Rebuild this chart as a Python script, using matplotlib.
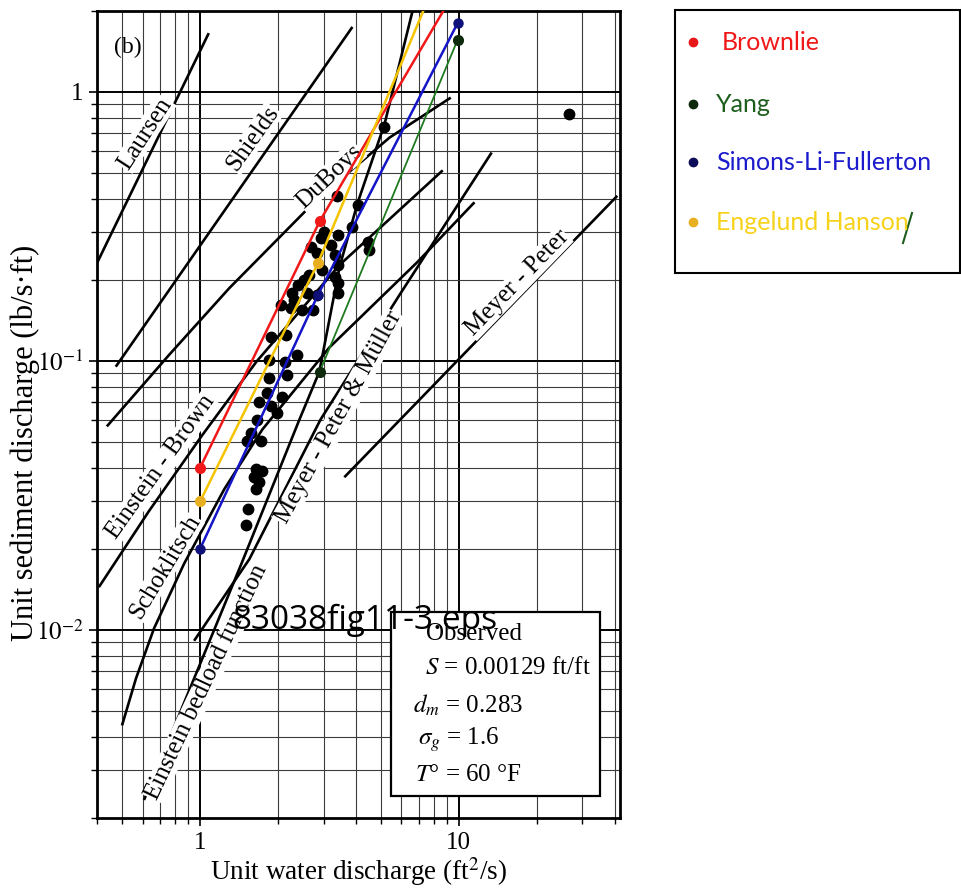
import matplotlib
matplotlib.use('Agg')
import matplotlib.pyplot as plt
from matplotlib.patches import Rectangle
from matplotlib.lines import Line2D
from matplotlib.ticker import FixedLocator, FixedFormatter, LogLocator, NullFormatter

plt.rcParams['font.family'] = ['Liberation Serif', 'DejaVu Serif']
plt.rcParams['mathtext.fontset'] = 'stix'

# curvas de las formulas (q en ft2/s, qs en lb/s.ft)
laursen_q = [0.39, 1.08]
laursen_qs = [0.22, 1.65]
shields_q = [0.472, 3.88]
shields_qs = [0.095, 1.74]
duboys_q = [0.436, 0.758, 1.296, 2.81, 5.40, 9.31]
duboys_qs = [0.057, 0.105, 0.186, 0.395, 0.675, 0.95]
ein_brown_q = [0.406, 0.634, 1.018, 1.65, 3.46, 8.67]
ein_brown_qs = [0.0144, 0.0276, 0.0528, 0.0991, 0.227, 0.510]
schok_q = [0.499, 0.565, 0.663, 0.867, 1.24, 1.74, 3.16, 6.93, 11.5]
schok_qs = [0.00441, 0.00659, 0.0101, 0.0176, 0.0333, 0.0555, 0.112, 0.233, 0.388]
ein_bed_q = [0.607, 1.455, 2.42, 2.89, 3.46, 4.06, 5.17, 6.63]
ein_bed_qs = [0.00233, 0.0179, 0.0604, 0.091, 0.223, 0.385, 0.761, 2.0]
mpm_q = [0.948, 1.55, 2.92, 5.91, 13.4]
mpm_qs = [0.0091, 0.0183, 0.0604, 0.176, 0.594]
mp_q = [3.61, 41.0]
mp_qs = [0.0369, 0.41]

# datos observados
obs_q = [3.37, 4.06, 3.88, 4.44, 3.02, 3.40, 2.94, 3.22, 2.69, 2.84,
         3.31, 3.40, 2.97, 2.64, 2.53, 3.31, 3.40, 2.38, 2.27, 2.58,
         2.84, 2.31, 2.06, 2.25, 2.48, 2.72, 1.88, 2.15, 2.36, 1.85,
         2.12, 1.85, 2.17, 1.82, 2.08, 1.69, 1.88, 1.99, 1.66, 1.58,
         1.72, 1.52, 1.65, 1.74, 1.62, 1.69, 1.65, 1.53, 1.51, 5.12,
         4.48, 26.7, 3.40]
obs_qs = [0.409, 0.378, 0.313, 0.276, 0.300, 0.293, 0.286, 0.269, 0.264, 0.251,
          0.247, 0.227, 0.217, 0.208, 0.200, 0.205, 0.195, 0.191, 0.179, 0.179,
          0.176, 0.168, 0.161, 0.157, 0.155, 0.155, 0.122, 0.125, 0.105, 0.101,
          0.0992, 0.0865, 0.0887, 0.0761, 0.0736, 0.0705, 0.0676, 0.0642, 0.0604, 0.0541,
          0.0501, 0.0501, 0.0395, 0.0388, 0.0369, 0.0353, 0.0333, 0.0281, 0.0245, 0.736,
          0.258, 0.829, 0.179]

# predicciones agregadas en color
brownlie_q = [1.0, 2.9, 10.0]
brownlie_qs = [0.04, 0.33, 2.5]
yang_q = [2.9, 9.9]
yang_qs = [0.091, 1.56]
simons_q = [1.0, 2.85, 9.9]
simons_qs = [0.02, 0.175, 1.8]
engelund_q = [1.0, 2.85, 8.0]
engelund_qs = [0.03, 0.23, 2.47]

# etiquetas de las curvas: texto, q, qs, angulo
curve_labels = ['Laursen', 'Shields', 'DuBoys', 'Einstein - Brown', 'Schoklitsch',
                'Einstein bedload function', 'Meyer - Peter & M\u00fcller', 'Meyer - Peter']
label_q = [0.612, 1.60, 3.16, 0.706, 0.732, 1.06, 3.43, 16.8]
label_qs = [0.699, 0.670, 0.484, 0.0402, 0.0171, 0.0064, 0.0615, 0.194]
label_ang = [57, 54.6, 43.6, 54.6, 59, 64.7, 61.2, 45.8]

ytick_vals = [0.01, 0.1, 1]
ytick_txt = ['$10^{-2}$', '$10^{-1}$', '1']
xtick_vals = [1, 10]
xtick_txt = ['1', '10']

box_lines = ['Observed', '$S$ = 0.00129 ft/ft', '$d_m$ = 0.283', '$\\sigma_g$ = 1.6', '$T$\u00b0 = 60 \u00b0F']
leg_names = ['Brownlie', 'Yang', 'Simons-Li-Fullerton', 'Engelund Hanson']
leg_text_col = ['#f01818', '#1d5e1d', '#1c1ccc', '#f7d21a']
leg_dot_col = ['#e81818', '#0d2a0d', '#0c0c5a', '#e8b020']


fig = plt.figure(figsize=(9.62, 8.88), dpi=100)
ax = fig.add_axes([0.101, 0.079, 0.5435, 0.909])
ax.set_xscale('log')
ax.set_yscale('log')
ax.set_xlim(0.4, 42)
ax.set_ylim(0.002, 2)

ax.grid(which='major', color='black', lw=1.4)
ax.grid(which='minor', color='#3c3c3c', lw=0.8)
ax.set_axisbelow(True)

# curvas negras
lw_k = 1.9
for q, qs in [(laursen_q, laursen_qs), (shields_q, shields_qs), (duboys_q, duboys_qs),
              (ein_brown_q, ein_brown_qs), (schok_q, schok_qs), (ein_bed_q, ein_bed_qs),
              (mpm_q, mpm_qs), (mp_q, mp_qs)]:
    ax.plot(q, qs, color='black', lw=lw_k, zorder=2, solid_capstyle='butt')

for t, q, qs, a in zip(curve_labels, label_q, label_qs, label_ang):
    ax.text(q, qs, t, rotation=a, rotation_mode='anchor', ha='center', va='center',
            fontsize=18, zorder=3,
            bbox=dict(fc='white', ec='none', pad=0.3))

# observados
ax.plot(obs_q, obs_qs, 'o', color='black', ms=7.5, zorder=4)

# lineas de color
ax.plot(brownlie_q, brownlie_qs, '-o', color='#f01818', lw=1.8, ms=7, zorder=5)
ax.plot(engelund_q, engelund_qs, '-o', color='#f5c400', lw=1.8, ms=7, mfc='#e8b020', mec='#e8b020', zorder=5)
ax.plot(simons_q, simons_qs, '-o', color='#1414c8', lw=1.8, ms=6.5, mfc='#10107a', mec='#10107a', zorder=5)
ax.plot(yang_q, yang_qs, '-o', color='#1f7a1f', lw=1.3, ms=7, mfc='#0d2a0d', mec='#0d2a0d', zorder=5)

ax.yaxis.set_major_locator(FixedLocator(ytick_vals))
ax.yaxis.set_major_formatter(FixedFormatter(ytick_txt))
ax.xaxis.set_major_locator(FixedLocator(xtick_vals))
ax.xaxis.set_major_formatter(FixedFormatter(xtick_txt))
ax.xaxis.set_minor_locator(LogLocator(base=10, subs=range(2, 10)))
ax.yaxis.set_minor_locator(LogLocator(base=10, subs=range(2, 10)))
ax.xaxis.set_minor_formatter(NullFormatter())
ax.yaxis.set_minor_formatter(NullFormatter())
ax.tick_params(which='major', direction='out', length=6, width=1.2, labelsize=18, pad=4)
ax.tick_params(which='minor', direction='out', length=4, width=1)
for s in ax.spines.values():
    s.set_linewidth(2)

ax.set_xlabel('Unit water discharge (ft$^2$/s)', fontsize=19.5, labelpad=1)
ax.set_ylabel('Unit sediment discharge (lb/s\u00b7ft)', fontsize=22)
ax.yaxis.set_label_coords(-0.11, 0.465)

ax.text(0.033, 0.954, '(b)', transform=ax.transAxes, fontsize=17, ha='left', va='center', zorder=6)

# cuadro de condiciones
ax.add_patch(Rectangle((0.562, 0.0273), 0.3996, 0.228, transform=ax.transAxes,
                       fc='white', ec='black', lw=1.6, zorder=6))
box_x = [0.629, 0.627, 0.604, 0.614, 0.608]
box_y = [0.228, 0.186, 0.139, 0.0967, 0.053]
for t, bx, by in zip(box_lines, box_x, box_y):
    ax.text(bx, by, t, transform=ax.transAxes, fontsize=18, ha='left', va='center', zorder=7)

# marca de agua del archivo
fig.text(0.3794, 0.3018, '83038fig11-3.eps', family=['Open Sans', 'DejaVu Sans'],
         fontsize=24, ha='center', va='center', zorder=10)

# leyenda agregada a mano
fig.patches.append(Rectangle((0.7017, 0.6926), 0.296, 0.296, transform=fig.transFigure,
                             fc='white', ec='black', lw=1.5))
leg_y = [42, 104, 162, 222]
leg_tx = [722, 716, 716, 716]
for name, tc, dc, yy, tx in zip(leg_names, leg_text_col, leg_dot_col, leg_y, leg_tx):
    fy = 1 - yy / 888
    fig.lines.append(Line2D([693 / 962], [fy], marker='o', ms=6, color=dc,
                            transform=fig.transFigure))
    fig.text(tx / 962, fy, name, color=tc, family=['Lato', 'DejaVu Sans'],
             fontsize=18, ha='left', va='center')
fig.lines.append(Line2D([903 / 962, 912 / 962], [1 - 243 / 888, 1 - 213 / 888],
                        color='#1d5e1d', lw=1.5, transform=fig.transFigure))

fig.savefig('out.png', dpi=100)
